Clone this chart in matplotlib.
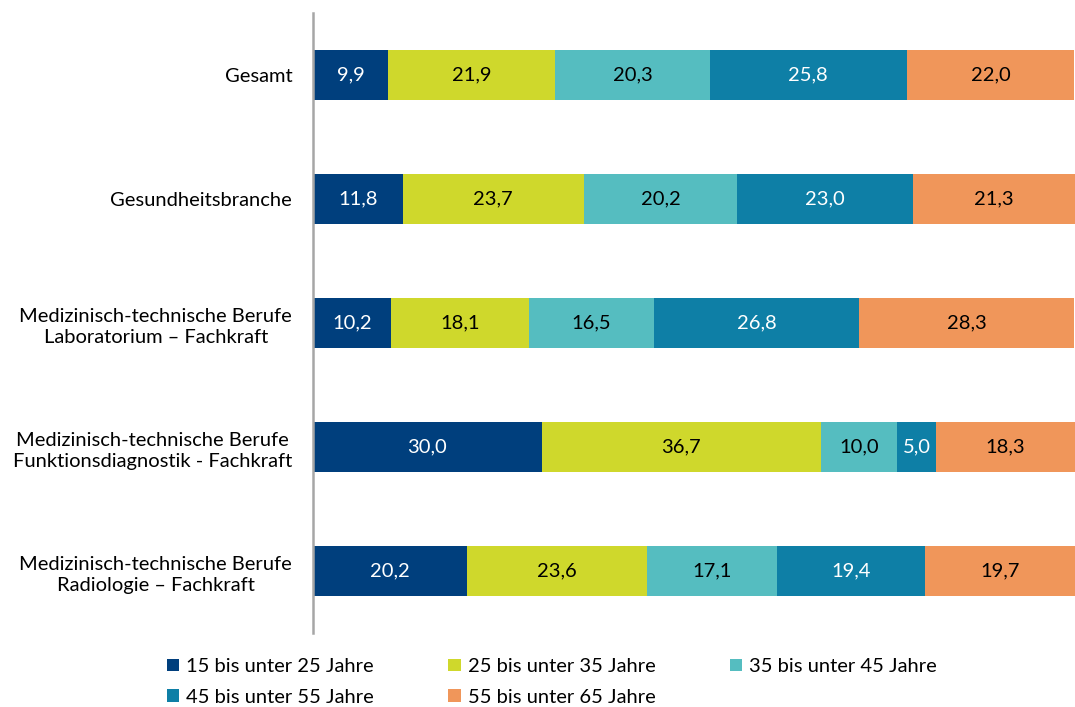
import matplotlib.pyplot as plt
import numpy as np

plt.rcParams['font.family'] = ['Lato', 'DejaVu Sans']

categories = [
    "Gesamt",
    "Gesundheitsbranche",
    "Medizinisch-technische Berufe\nLaboratorium – Fachkraft",
    "Medizinisch-technische Berufe\nFunktionsdiagnostik - Fachkraft",
    "Medizinisch-technische Berufe\nRadiologie – Fachkraft",
]
age_groups = [
    "15 bis unter 25 Jahre",
    "25 bis unter 35 Jahre",
    "35 bis unter 45 Jahre",
    "45 bis unter 55 Jahre",
    "55 bis unter 65 Jahre",
]
age_15_25 = [9.9, 11.8, 10.2, 30.0, 20.2]
age_25_35 = [21.9, 23.7, 18.1, 36.7, 23.6]
age_35_45 = [20.3, 20.2, 16.5, 10.0, 17.1]
age_45_55 = [25.8, 23.0, 26.8, 5.0, 19.4]
age_55_65 = [22.0, 21.3, 28.3, 18.3, 19.7]

series = [age_15_25, age_25_35, age_35_45, age_45_55, age_55_65]
colors = ['#003F7D', '#CFD82C', '#55BDC0', '#0E7FA6', '#F0965A']
text_colors = ['white', 'black', 'black', 'white', 'black']

fig = plt.figure(figsize=(10.75, 7.07), dpi=100)
ax = fig.add_axes([313 / 1075, 1 - 633 / 707, 762 / 1075, 620 / 707])

y = np.arange(len(categories))
left = np.zeros(len(categories))
handles = []
for vals, col, tcol, lab in zip(series, colors, text_colors, age_groups):
    vals = np.array(vals)
    bars = ax.barh(y, vals, left=left, height=0.4, color=col, label=lab)
    handles.append(bars)
    for yi, (l, v) in enumerate(zip(left, vals)):
        ax.text(l + v / 2, yi, f"{v:.1f}".replace('.', ','),
                ha='center', va='center', color=tcol, fontsize=14.5)
    left += vals

ax.set_xlim(0, 100)
ax.set_ylim(len(categories) - 0.5, -0.5)
ax.set_yticks(y)
ax.set_yticklabels(categories, fontsize=14.5, linespacing=1.3)
for t in ax.get_yticklabels():
    t.set_multialignment('center')
ax.tick_params(axis='y', length=0, pad=15)
ax.set_xticks([])
for s in ['top', 'right', 'bottom']:
    ax.spines[s].set_visible(False)
ax.spines['left'].set_color('#A6A6A6')
ax.spines['left'].set_linewidth(1.8)

order = [0, 3, 1, 4, 2]
leg = fig.legend([handles[i] for i in order], [age_groups[i] for i in order],
                 ncol=3, loc='upper left', bbox_to_anchor=(157 / 1075, 1 - 648 / 707),
                 frameon=False, fontsize=14.5, handlelength=0.6, handleheight=0.6,
                 handletextpad=0.35, columnspacing=3.7, labelspacing=0.68,
                 borderpad=0)

fig.savefig("out.png", dpi=100)
